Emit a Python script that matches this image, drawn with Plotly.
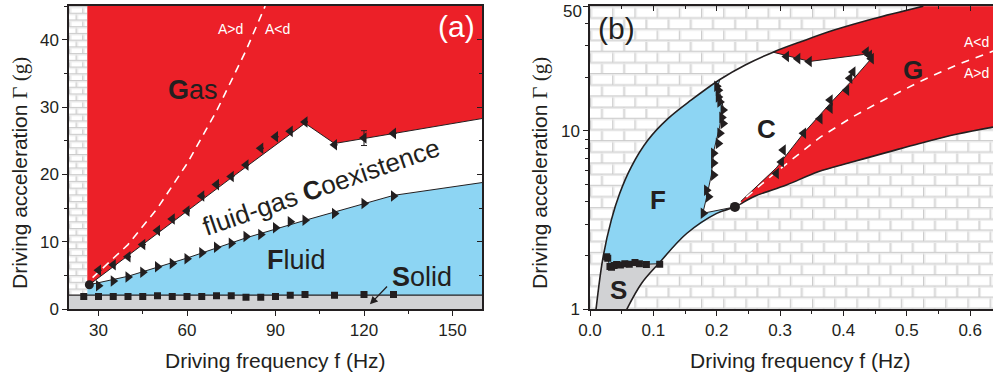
import base64
import math
import plotly.graph_objects as go

# ---------------- data: panel (a) ----------------
a_f_range = [20, 160]
a_G_range = [0, 45]
a_f_min = 26.2            # lowest accessible frequency (brick area to the left)
a_solid_G = 2.1           # solid / fluid boundary
a_left_gas_G = 4.2        # gas edge at f_min
a_left_fluid_G = 3.5      # fluid edge at f_min
a_dot = (26.9, 3.65)

a_upper_line_f = [26.9, 50, 75, 100, 110, 160]
a_upper_line_G = [3.65, 11.3, 19.5, 27.6, 24.6, 28.3]
a_lower_line_f = [26.9, 40, 60, 80, 100, 130, 160]
a_lower_line_G = [3.65, 4.9, 7.6, 10.6, 13.2, 16.9, 18.8]

a_gas_f = [30, 35, 40, 45, 50, 55, 60, 65, 70, 75, 80, 85, 90, 95, 100, 110, 120, 130]
a_gas_G = [5.8, 6.6, 7.8, 9.6, 11.7, 13.4, 14.6, 16.8, 18.5, 19.7, 21.4, 23.9, 25.6, 26.4, 27.8, 24.4, 25.4, 26.1]
a_gas_err = [0, 0, 0, 0, 0, 0, 0, 0, 0, 0, 0, 0, 0, 0, 0, 0, 1.1, 0]
a_fluid_f = [30, 35, 40, 45, 50, 55, 60, 65, 70, 75, 80, 85, 90, 95, 100, 110, 120, 130]
a_fluid_G = [3.5, 4.2, 4.8, 5.5, 6.3, 6.8, 7.5, 8.4, 9.2, 9.8, 10.8, 11.1, 12.1, 13.0, 13.2, 14.2, 15.7, 16.8]
a_solid_f = [25, 30, 35, 40, 45, 50, 55, 60, 65, 70, 75, 80, 85, 90, 95, 100, 110, 120, 130]
a_solid_pts = [1.9, 1.9, 1.9, 1.9, 1.9, 2.0, 1.9, 1.9, 1.9, 2.0, 2.0, 1.8, 1.8, 1.9, 2.1, 2.2, 2.1, 2.2, 2.2]

a_Ad_f = [28, 40, 50, 60, 70, 80, 86.5]
a_Ad_G = [4.7, 9.6, 15.0, 21.6, 29.4, 38.4, 45.0]

# ---------------- data: panel (b) ----------------
b_f_range = [0, 0.636]
b_G_range = [1, 50]
b_G_ticks = [1, 10, 50]
b_G_minor = [2, 3, 4, 5, 6, 7, 8, 9, 20, 30, 40]

b_upper_f = [0.0095, 0.0205, 0.0336, 0.0468, 0.0652, 0.0915, 0.123, 0.16, 0.205, 0.245, 0.289, 0.335, 0.384, 0.447, 0.526]
b_upper_G = [1.0, 1.95, 3.16, 4.46, 6.29, 8.88, 11.7, 14.9, 19.4, 23.4, 27.6, 31.8, 36.6, 42.5, 50.0]
b_lower_f = [0.058, 0.0815, 0.108, 0.1525, 0.2, 0.2287, 0.26, 0.31, 0.36, 0.415, 0.47, 0.52, 0.58, 0.636]
b_lower_G = [1.0, 1.40, 1.8, 2.66, 3.45, 3.75, 4.3, 4.97, 5.9, 6.71, 7.6, 8.5, 9.6, 10.5]

b_sline_f = [0.0205, 0.0263, 0.0315, 0.042, 0.055, 0.071, 0.089, 0.108]
b_sline_G = [1.95, 1.97, 1.76, 1.78, 1.80, 1.83, 1.79, 1.8]

b_fc_f = [0.2287, 0.178, 0.1836, 0.1915, 0.1956, 0.2045, 0.21, 0.2045, 0.202, 0.205]
b_fc_G = [3.75, 3.45, 4.18, 5.65, 7.8, 10.5, 13.6, 16.2, 18.0, 19.4]

b_cg_f = [0.2287, 0.294, 0.337, 0.384, 0.415, 0.439, 0.4435, 0.432, 0.347, 0.289]
b_cg_G = [3.75, 6.2, 9.7, 14.9, 19.4, 24.0, 25.3, 26.8, 24.5, 27.6]

b_sq_f = [0.0263, 0.028, 0.0315, 0.034, 0.038, 0.042, 0.048, 0.055, 0.062, 0.071, 0.078, 0.089, 0.11]
b_sq_G = [1.97, 1.93, 1.74, 1.72, 1.76, 1.78, 1.77, 1.8, 1.79, 1.83, 1.8, 1.78, 1.79]

b_fcm_f = [0.2025, 0.2, 0.2025, 0.205, 0.21, 0.208, 0.21, 0.205, 0.2025, 0.195, 0.195, 0.195, 0.184, 0.187, 0.1787]
b_fcm_G = [16.9, 17.8, 15.5, 14.5, 13.1, 11.9, 11.0, 9.7, 8.5, 7.5, 6.6, 5.65, 4.65, 4.27, 3.45]

b_cgm_f = [0.310, 0.328, 0.346, 0.436, 0.444, 0.441, 0.415, 0.41, 0.405, 0.379, 0.379, 0.363, 0.337, 0.305, 0.302, 0.294]
b_cgm_G = [26.1, 25.4, 24.5, 27.7, 25.4, 26.5, 21.4, 19.7, 16.9, 14.9, 13.4, 11.7, 9.7, 7.8, 6.7, 5.77]

b_dot = (0.2287, 3.75)
b_Ad_f = [0.2287, 0.289, 0.363, 0.415, 0.457, 0.526, 0.58, 0.636]
b_Ad_G = [3.75, 5.7, 9.2, 12.0, 14.5, 19.3, 23.5, 28.0]

# ---------------- styles ----------------
RED = "#EC2028"
BLUE = "#8DD5F3"
GRAY = "#D1D2D4"
INK = "#231F20"
FONT = "Liberation Sans, Arial, sans-serif"


def brick_uri(w, h, bw, bh):
    p = (f'<path d="M0 0.6H{bw} M0 {bh + 0.6}H{bw} M0.6 0V{bh} M{bw / 2 + 0.6} {bh}V{2 * bh}" '
         f'stroke="#cbcbcb" stroke-width="1.3" fill="none"/>'
         f'<path d="M0 1.9H{bw} M0 {bh + 1.9}H{bw} M1.9 1.2V{bh} M{bw / 2 + 1.9} {bh + 1.2}V{2 * bh}" '
         f'stroke="#ebebeb" stroke-width="1.2" fill="none"/>')
    svg = (f'<svg xmlns="http://www.w3.org/2000/svg" width="{w}" height="{h}" viewBox="0 0 {w} {h}" '
           f'preserveAspectRatio="none"><defs><pattern id="b" x="0" y="0" width="{bw}" height="{2 * bh}" '
           f'patternUnits="userSpaceOnUse"><rect width="{bw}" height="{2 * bh}" fill="#ffffff"/>{p}'
           f'</pattern></defs><rect width="{w}" height="{h}" fill="url(#b)"/></svg>')
    return "data:image/svg+xml;base64," + base64.b64encode(svg.encode()).decode()


fig = go.Figure()


def poly(x, y, color, xa="x", ya="y"):
    fig.add_trace(go.Scatter(x=x, y=y, fill="toself", fillcolor=color, mode="lines",
                             line=dict(width=0), hoverinfo="skip", showlegend=False,
                             xaxis=xa, yaxis=ya))


def line(x, y, xa="x", ya="y", width=1.0, color=INK, dash=None, shape="linear"):
    fig.add_trace(go.Scatter(x=x, y=y, mode="lines",
                             line=dict(width=width, color=color, dash=dash, shape=shape),
                             hoverinfo="skip", showlegend=False, xaxis=xa, yaxis=ya))


def marks(x, y, symbol, size, xa="x", ya="y", err=None):
    fig.add_trace(go.Scatter(x=x, y=y, mode="markers",
                             marker=dict(symbol=symbol, size=size, color=INK),
                             error_y=(dict(type="data", array=err, color=INK, thickness=1, width=3)
                                      if err else None),
                             hoverinfo="skip", showlegend=False, xaxis=xa, yaxis=ya))


# ---------------- panel (a) ----------------
poly([a_f_range[0], a_f_range[1], a_f_range[1], a_f_range[0]],
     [0, 0, a_solid_G, a_solid_G], GRAY)
poly([a_f_min, a_f_min] + a_lower_line_f + [a_f_range[1]],
     [a_solid_G, a_left_fluid_G] + a_lower_line_G + [a_solid_G], BLUE)
poly([a_f_min, a_f_min] + a_upper_line_f + [a_f_range[1]],
     [a_G_range[1], a_left_gas_G] + a_upper_line_G + [a_G_range[1]], RED)
line(a_f_range, [a_solid_G, a_solid_G], width=1.2)
line(a_upper_line_f, a_upper_line_G, width=1.0)
line(a_lower_line_f, a_lower_line_G, width=1.0)
line(a_Ad_f, a_Ad_G, width=1.6, color="white", dash="8px,6px")
marks(a_gas_f, a_gas_G, "triangle-left", 10, err=a_gas_err)
marks(a_fluid_f, a_fluid_G, "triangle-right", 10)
marks(a_solid_f, a_solid_pts, "square", 7)
marks([a_dot[0]], [a_dot[1]], "circle", 9)

fig.add_trace(go.Scatter(x=[None], y=[None], xaxis="x", yaxis="y3", showlegend=False, hoverinfo="skip"))

# ---------------- panel (b) ----------------
iu_s = b_upper_f.index(b_sline_f[0])
iu_fc = b_upper_f.index(b_fc_f[-1])
iu_cg = b_upper_f.index(b_cg_f[-1])
il_s = b_lower_f.index(b_sline_f[-1])
il_dot = b_lower_f.index(b_dot[0])

poly(b_upper_f[:iu_s + 1] + b_sline_f[1:] + b_lower_f[:il_s][::-1],
     b_upper_G[:iu_s + 1] + b_sline_G[1:] + b_lower_G[:il_s][::-1], GRAY, "x2", "y2")
poly(b_upper_f[iu_s:iu_fc + 1] + b_fc_f[::-1][1:] + b_lower_f[il_s:il_dot + 1][::-1] + b_sline_f[::-1][1:],
     b_upper_G[iu_s:iu_fc + 1] + b_fc_G[::-1][1:] + b_lower_G[il_s:il_dot + 1][::-1] + b_sline_G[::-1][1:],
     BLUE, "x2", "y2")
poly(b_fc_f + b_upper_f[iu_fc + 1:iu_cg + 1] + b_cg_f[::-1][1:],
     b_fc_G + b_upper_G[iu_fc + 1:iu_cg + 1] + b_cg_G[::-1][1:], "white", "x2", "y2")
poly(b_upper_f[iu_cg:] + [b_f_range[1]] + b_lower_f[il_dot:][::-1] + b_cg_f[1:],
     b_upper_G[iu_cg:] + [b_G_range[1]] + b_lower_G[il_dot:][::-1] + b_cg_G[1:], RED, "x2", "y2")

line(b_upper_f, b_upper_G, "x2", "y2", width=1.6, shape="spline")
line(b_lower_f, b_lower_G, "x2", "y2", width=1.6, shape="spline")
line(b_sline_f, b_sline_G, "x2", "y2", width=1.0)
line(b_fc_f, b_fc_G, "x2", "y2", width=1.0)
line(b_cg_f, b_cg_G, "x2", "y2", width=1.0)
line(b_Ad_f, b_Ad_G, "x2", "y2", width=1.6, color="white", dash="8px,7px")
marks(b_sq_f, b_sq_G, "square", 7, "x2", "y2")
marks(b_fcm_f, b_fcm_G, "triangle-right", 10, "x2", "y2")
marks(b_cgm_f, b_cgm_G, "triangle-left", 10, "x2", "y2")
marks([b_dot[0]], [b_dot[1]], "circle", 10, "x2", "y2")
fig.add_trace(go.Scatter(x=[None], y=[None], xaxis="x4", yaxis="y2", showlegend=False, hoverinfo="skip"))

# ---------------- layout ----------------
W, H = 993, 376
ax_common = dict(showgrid=False, zeroline=False, showline=True, linecolor=INK, linewidth=1.5,
                 automargin=False, tickcolor=INK, tickwidth=1.2, ticklabeloverflow="allow",
                 tickfont=dict(family=FONT, size=17, color=INK))
a_dom_x = [69 / W, 482 / W]
b_dom_x = [590 / W, 1.0]
dom_y = [1 - 309.3 / H, 1 - 6 / H]

# top label (50) is drawn as an annotation so that it stays inside the page
b_tick_text = [str(v) if v != b_G_range[1] else "" for v in b_G_ticks]

fig.update_layout(
    template="none",
    width=W, height=H, margin=dict(l=0, r=0, t=0, b=0, pad=0, autoexpand=False),
    paper_bgcolor="white", plot_bgcolor="rgba(0,0,0,0)", showlegend=False,
    font=dict(family=FONT, color=INK),
    xaxis=dict(domain=a_dom_x, range=a_f_range, anchor="y", tickmode="linear", tick0=0, dtick=30,
               ticks="outside", ticklen=5, mirror=True,
               minor=dict(ticks="outside", dtick=15, tick0=0, ticklen=3, tickcolor=INK), **ax_common),
    yaxis=dict(domain=dom_y, range=a_G_range, anchor="x", tickmode="linear", tick0=0, dtick=10,
               ticks="outside", ticklen=5, mirror=True,
               minor=dict(ticks="outside", dtick=5, tick0=0, ticklen=3, tickcolor=INK), **ax_common),
    yaxis3=dict(overlaying="y", side="right", anchor="x", range=a_G_range, tickmode="linear", tick0=0,
                dtick=10, ticks="inside", ticklen=5, showticklabels=False,
                minor=dict(ticks="inside", dtick=5, tick0=0, ticklen=3, tickcolor=INK), **ax_common),
    xaxis2=dict(domain=b_dom_x, range=b_f_range, anchor="y2", tickmode="linear", tick0=0, dtick=0.1,
                tickformat=".1f", ticks="outside", ticklen=5, mirror=True,
                minor=dict(ticks="outside", dtick=0.05, tick0=0, ticklen=3, tickcolor=INK), **ax_common),
    xaxis4=dict(overlaying="x2", side="top", anchor="y2", range=b_f_range, tickmode="linear", tick0=0,
                dtick=0.1, ticks="inside", ticklen=5, showticklabels=False,
                minor=dict(ticks="inside", dtick=0.05, tick0=0, ticklen=3, tickcolor=INK), **ax_common),
    yaxis2=dict(domain=dom_y, type="log", range=[math.log10(b_G_range[0]), math.log10(b_G_range[1] * 1.002)],
                anchor="x2", tickmode="array", tickvals=b_G_ticks, ticktext=b_tick_text,
                ticks="outside", ticklen=5, mirror=True,
                minor=dict(ticks="outside", tickmode="array",
                           tickvals=b_G_minor, ticklen=3, tickcolor=INK),
                **ax_common),
)

fig.add_layout_image(dict(source=brick_uri(18, 288, 13, 6.7), xref="x", yref="y",
                          x=a_f_range[0], y=a_G_range[1], sizex=a_f_min - a_f_range[0],
                          sizey=a_G_range[1] - a_solid_G, xanchor="left", yanchor="top",
                          sizing="stretch", layer="below"))
fig.add_layout_image(dict(source=brick_uri(403, 304, 22.2, 11.2), xref="x2 domain", yref="y2 domain",
                          x=0, y=1, sizex=1, sizey=1, xanchor="left", yanchor="top",
                          sizing="stretch", layer="below"))

ann = []


def txt(x, y, s, size, color=INK, xref="x", yref="y", angle=0, xanchor="center", yshift=0, xshift=0):
    ann.append(dict(x=x, y=y, xref=xref, yref=yref, text=s, showarrow=False, textangle=angle,
                    xanchor=xanchor, yanchor="middle", yshift=yshift, xshift=xshift,
                    font=dict(family=FONT, size=size, color=color)))


# panel (a) labels
txt(151.4, 41.9, "(a)", 30, "white")
txt(62.2, 32.5, "<b>G</b>as", 27)
txt(105.6, 18.1, "fluid-gas <b>C</b>oexistence", 26, angle=-19)
txt(97.2, 7.3, "<b>F</b>luid", 27)
txt(139.5, 4.8, "<b>S</b>olid", 27)
txt(74.6, 41.6, "A&gt;d", 14, "white")
txt(90.6, 41.6, "A&lt;d", 14, "white")
ann.append(dict(x=122, y=0.74, ax=128.3, ay=3.6, xref="x", yref="y", axref="x", ayref="y",
                showarrow=True, arrowhead=2, arrowsize=1.2, arrowwidth=1.3, arrowcolor=INK, text=""))

# panel (b) labels
lg = math.log10
txt(0, lg(b_G_range[1]), str(b_G_range[1]), 17, xref="x2 domain", yref="y2",
    xanchor="right", xshift=-6, yshift=-5)
txt(0.042, lg(37.6), "(b)", 30, xref="x2", yref="y2")
txt(0.51, lg(21.9), "<b>G</b>", 26, xref="x2", yref="y2")
txt(0.279, lg(10.3), "<b>C</b>", 26, xref="x2", yref="y2")
txt(0.108, lg(4.09), "<b>F</b>", 26, xref="x2", yref="y2")
txt(0.0447, lg(1.28), "<b>S</b>", 26, xref="x2", yref="y2")
txt(0.633, lg(31.5), "A&lt;d", 14, "white", xref="x2", yref="y2", xanchor="right")
txt(0.633, lg(21.0), "A&gt;d", 14, "white", xref="x2", yref="y2", xanchor="right")

# axis titles
txt(275 / W, 1 - 360 / H, "Driving frequency f (Hz)", 21, xref="paper", yref="paper")
txt(800 / W, 1 - 360 / H, "Driving frequency f (Hz)", 21, xref="paper", yref="paper")
ytitle = "Driving acceleration <span style='font-family:Liberation Serif, serif'>Γ (g)</span>"
txt(20 / W, 1 - 173 / H, ytitle, 21, xref="paper", yref="paper", angle=-90)
txt(540 / W, 1 - 173 / H, ytitle, 21, xref="paper", yref="paper", angle=-90)

fig.update_layout(annotations=ann)
fig.write_html("out.html")
